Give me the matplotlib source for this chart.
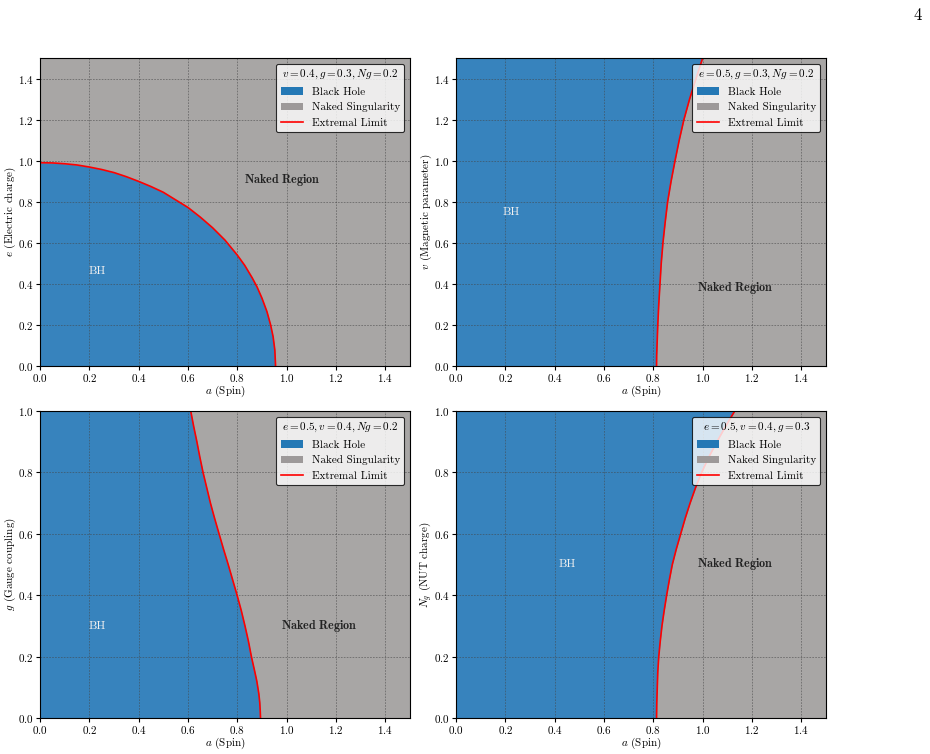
import numpy as np
import matplotlib
matplotlib.use("Agg")
from matplotlib import pyplot as plt
from matplotlib.patches import Patch
from matplotlib.lines import Line2D

plt.rcParams["font.family"] = "serif"
plt.rcParams["font.serif"] = ["cmr10"]
plt.rcParams["mathtext.fontset"] = "cm"
plt.rcParams["axes.unicode_minus"] = False
plt.rcParams["axes.formatter.use_mathtext"] = True
plt.rcParams["font.size"] = 8
plt.rcParams["xtick.major.size"] = 3
plt.rcParams["ytick.major.size"] = 3
plt.rcParams["xtick.major.pad"] = 1.5
plt.rcParams["ytick.major.pad"] = 1.5

# extremal curves
# panel 1: e (electric charge) vs a, v=0.4, g=0.3, Ng=0.2
a_e = [0.0, 0.05, 0.1, 0.15, 0.2, 0.25, 0.3, 0.35, 0.4, 0.45, 0.5, 0.55, 0.6, 0.65,
       0.7, 0.75, 0.8, 0.83, 0.86, 0.88, 0.9, 0.92, 0.935, 0.945, 0.952, 0.955]
e_ext = [0.99, 0.989, 0.985, 0.979, 0.969, 0.957, 0.942, 0.922, 0.899, 0.874, 0.846, 0.809, 0.772, 0.725,
         0.673, 0.613, 0.54, 0.49, 0.43, 0.385, 0.33, 0.265, 0.2, 0.143, 0.078, 0.0]

# panel 2: v (magnetic parameter) vs a, e=0.5, g=0.3, Ng=0.2
v_vals = [0.0, 0.05, 0.1, 0.2, 0.3, 0.4, 0.5, 0.6, 0.7, 0.8, 0.9, 1.0, 1.1, 1.2, 1.3, 1.4, 1.5]
a_v = [0.813, 0.8135, 0.815, 0.818, 0.822, 0.827, 0.832, 0.839, 0.848, 0.858, 0.872, 0.888, 0.905, 0.924, 0.947, 0.973, 1.0]

# panel 3: g (gauge coupling) vs a, e=0.5, v=0.4, Ng=0.2
g_vals = [0.0, 0.02, 0.05, 0.08, 0.1, 0.12, 0.15, 0.2, 0.25, 0.3, 0.35, 0.4, 0.45, 0.5,
          0.55, 0.6, 0.65, 0.7, 0.75, 0.8, 0.85, 0.9, 0.95, 1.0]
a_g = [0.894, 0.893, 0.891, 0.887, 0.883, 0.879, 0.871, 0.857, 0.845, 0.831, 0.816, 0.799, 0.781, 0.763,
       0.744, 0.726, 0.708, 0.691, 0.676, 0.661, 0.648, 0.636, 0.623, 0.611]

# panel 4: Ng (NUT charge) vs a, e=0.5, v=0.4, g=0.3
n_vals = [0.0, 0.05, 0.1, 0.15, 0.2, 0.25, 0.3, 0.35, 0.4, 0.45, 0.5, 0.55, 0.6, 0.65,
          0.7, 0.75, 0.8, 0.85, 0.9, 0.95, 1.0]
a_n = [0.813, 0.814, 0.816, 0.818, 0.822, 0.828, 0.835, 0.844, 0.854, 0.865, 0.877, 0.893, 0.911, 0.929,
       0.949, 0.971, 0.996, 1.025, 1.058, 1.093, 1.13]

col_bh = "#3783bd"
col_ns = "#a8a6a5"

fig = plt.figure(figsize=(9.3, 7.54), dpi=100)
W, H = 930.0, 754.0
boxes = [(40, 58, 410, 366), (456, 58, 826, 366), (40, 411, 410, 718), (456, 411, 826, 718)]
axs = [fig.add_axes([x0 / W, 1 - y1 / H, (x1 - x0) / W, (y1 - y0) / H]) for x0, y0, x1, y1 in boxes]


def legend(ax, title):
    handles = [Patch(facecolor="#2478b5", label="Black Hole"),
               Patch(facecolor="#9d9999", label="Naked Singularity"),
               Line2D([], [], color="red", lw=1.2, label="Extremal Limit")]
    lg = ax.legend(handles=handles, title=title, loc="upper right", fontsize=8,
                   title_fontsize=8, framealpha=0.8, edgecolor="black", fancybox=True)
    lg.get_frame().set_linewidth(0.8)


def style(ax, ylabel, ymax):
    ax.set_facecolor(col_ns)
    ax.set_xlim(0, 1.5)
    ax.set_ylim(0, ymax)
    ax.set_xlabel(r"$a$ (Spin)")
    ax.set_ylabel(ylabel)
    ax.xaxis.set_label_coords(0.5, -0.058)
    ax.yaxis.set_label_coords(-0.06, 0.5)
    ax.grid(True, linestyle=(0, (2, 1.5)), color="#444444", alpha=0.6, linewidth=0.6)
    for s in ax.spines.values():
        s.set_color("black")


def labels(ax, bh_xy, nr_xy):
    ax.text(*bh_xy, "BH", color="#f0f0f0", ha="center", va="center", fontsize=8.5)
    ax.text(*nr_xy, r"$\mathbf{Naked\ Region}$", ha="center", va="center", fontsize=8.7, color="#222222")


# panel 1
ax = axs[0]
style(ax, r"$e$ (Electric charge)", 1.5)
ax.fill_between(a_e, 0, e_ext, color=col_bh, lw=0)
ax.plot(a_e, e_ext, color="red", lw=1.2)
labels(ax, (0.23, 0.46), (0.98, 0.905))
legend(ax, r"$v=0.4, g=0.3, Ng=0.2$")

# panel 2
ax = axs[1]
style(ax, r"$v$ (Magnetic parameter)", 1.5)
ax.fill_betweenx(v_vals, 0, a_v, color=col_bh, lw=0)
ax.plot(a_v, v_vals, color="red", lw=1.2)
labels(ax, (0.225, 0.75), (1.13, 0.38))
legend(ax, r"$e=0.5, g=0.3, Ng=0.2$")

# panel 3
ax = axs[2]
style(ax, r"$g$ (Gauge coupling)", 1.0)
ax.fill_betweenx(g_vals, 0, a_g, color=col_bh, lw=0)
ax.plot(a_g, g_vals, color="red", lw=1.2)
labels(ax, (0.23, 0.30), (1.13, 0.30))
legend(ax, r"$e=0.5, v=0.4, Ng=0.2$")

# panel 4
ax = axs[3]
style(ax, r"$N_g$ (NUT charge)", 1.0)
ax.fill_betweenx(n_vals, 0, a_n, color=col_bh, lw=0)
ax.plot(a_n, n_vals, color="red", lw=1.2)
labels(ax, (0.45, 0.50), (1.13, 0.50))
legend(ax, r"$e=0.5, v=0.4, g=0.3$")

fig.text(918 / W, 1 - 15 / H, "4", ha="center", va="center", fontsize=12)

fig.savefig("out.png", dpi=100)
